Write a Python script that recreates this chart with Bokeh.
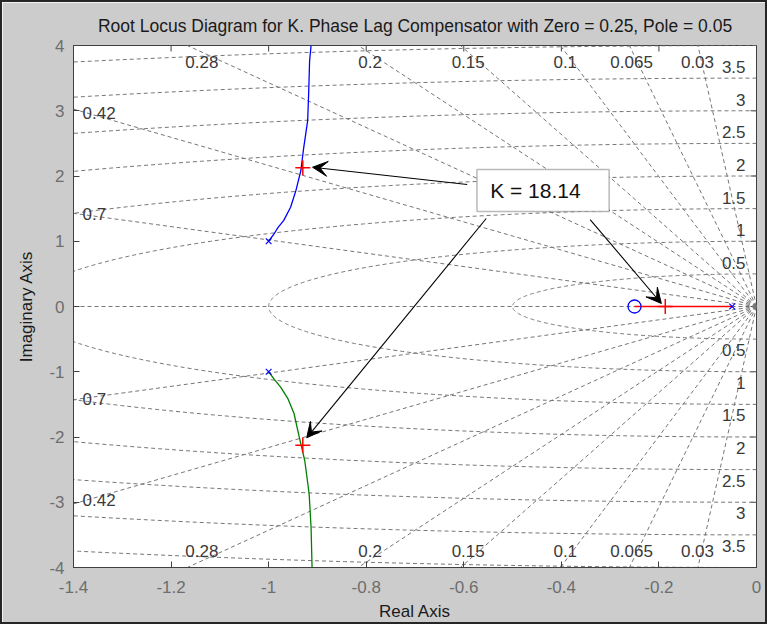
import numpy as np
from bokeh.plotting import figure
from bokeh.models import (Range1d, FixedTicker, Arrow, VeeHead,
                          BoxAnnotation, Label)
from bokeh.core.properties import value
from bokeh.embed import file_html
from bokeh.resources import INLINE

# ---------------- data ----------------
TITLE = "Root Locus Diagram for K. Phase Lag Compensator with Zero = 0.25, Pole = 0.05"
X_LABEL = "Real Axis"
Y_LABEL = "Imaginary Axis"

x_ticks = [-1.4, -1.2, -1.0, -0.8, -0.6, -0.4, -0.2, 0.0]
x_tick_labels = ["-1.4", "-1.2", "-1", "-0.8", "-0.6", "-0.4", "-0.2", "0"]
y_ticks = [-4, -3, -2, -1, 0, 1, 2, 3, 4]
y_tick_labels = ["-4", "-3", "-2", "-1", "0", "1", "2", "3", "4"]

# s-plane grid (damping ratios and natural frequencies)
zeta_values = [0.03, 0.065, 0.1, 0.15, 0.2, 0.28, 0.42, 0.7]
zeta_labels = ["0.03", "0.065", "0.1", "0.15", "0.2", "0.28", "0.42", "0.7"]
wn_values = [0.5, 1.0, 1.5, 2.0, 2.5, 3.0, 3.5, 4.0]
wn_labels = ["0.5", "1", "1.5", "2", "2.5", "3", "3.5"]

# root-locus branches
upper_re = [-1.000, -0.990, -0.981, -0.969, -0.955, -0.944, -0.934, -0.928, -0.920, -0.918, -0.916, -0.913]
upper_im = [1.00, 1.10, 1.21, 1.32, 1.52, 1.78, 2.08, 2.44, 2.85, 3.26, 3.77, 4.00]
lower_re = [-1.000, -0.988, -0.975, -0.960, -0.948, -0.937, -0.926, -0.917, -0.913, -0.911]
lower_im = [-1.00, -1.12, -1.24, -1.42, -1.64, -2.01, -2.36, -2.87, -3.39, -4.00]
real_re = [-0.05, -0.25]
real_im = [0.0, 0.0]

pole_re = [-1.0, -1.0, -0.05]
pole_im = [1.0, -1.0, 0.0]
zero_re = [-0.25]
zero_im = [0.0]

k_value = 18.14
k_re = [-0.93, -0.93, -0.187]
k_im = [2.125, -2.125, 0.0]

# ---------------- layout constants ----------------
XMIN, XMAX = -1.4, 0.0
YMIN, YMAX = -4.0, 4.0
FONT = "Liberation Sans"
GRID_COLOR = "#767676"
LABEL_COLOR = "#3a3a3a"
AXIS_COLOR = "#404040"

zeta_top_x = [-0.121, -0.256, -0.392, -0.591, -0.792, -1.137]   # 0.03 .. 0.28
zeta_top_y = 3.74
zeta_left_x = -1.3815
zeta_left_y = [2.97, 1.42]                                     # 0.42, 0.7
wn_label_x = -0.0225
wn_label_dy = 0.17

p = figure(width=767, height=624,
           x_range=Range1d(XMIN, XMAX), y_range=Range1d(YMIN, YMAX),
           output_backend="svg", toolbar_location=None,
           min_border_left=71, min_border_right=13,
           min_border_top=43, min_border_bottom=59,
           background_fill_color="white", border_fill_color="#cccccc",
           title=TITLE)
p.styles = {"border": "2px solid #262626"}
p.outline_line_color = AXIS_COLOR
p.grid.visible = False

p.title.align = "center"
p.title.text_font = FONT
p.title.text_font_size = "17.5px"
p.title.text_font_style = "normal"
p.title.text_color = "#1a1a1a"
p.title.standoff = 19

def style_axis(ax):
    ax.major_tick_in = 6
    ax.major_tick_out = 0
    ax.minor_tick_in = 0
    ax.minor_tick_out = 0
    ax.axis_line_color = AXIS_COLOR
    ax.major_tick_line_color = AXIS_COLOR
    ax.major_label_text_font = FONT
    ax.major_label_text_font_size = "17px"
    ax.major_label_text_color = "#6e6e6e"
    ax.axis_label_text_font = FONT
    ax.axis_label_text_font_size = "17px"
    ax.axis_label_text_font_style = "normal"
    ax.axis_label_text_color = "#1a1a1a"

xax = p.xaxis[0]
yax = p.yaxis[0]
xax.ticker = FixedTicker(ticks=x_ticks)
yax.ticker = FixedTicker(ticks=y_ticks)
xax.major_label_overrides = dict(zip(x_ticks, x_tick_labels))
yax.major_label_overrides = dict(zip(y_ticks, y_tick_labels))
xax.axis_label = X_LABEL
yax.axis_label = Y_LABEL
style_axis(xax)
style_axis(yax)
xax.major_label_standoff = 13
xax.axis_label_standoff = 6
yax.major_label_standoff = 9
yax.axis_label_standoff = 10

# mirrored inward ticks on the top and right edges of the box
p.scatter(x_ticks, [YMAX] * len(x_ticks), marker="dash", angle=np.pi / 2, size=12,
          line_color=AXIS_COLOR, line_width=1)
p.scatter([XMAX] * len(y_ticks), y_ticks, marker="dash", size=12,
          line_color=AXIS_COLOR, line_width=1)

# ---------------- s-plane grid ----------------
R = 20.0
gx, gy = [], []
for z in zeta_values:
    s = np.sqrt(1 - z * z)
    gx.append([0.0, -R * z]); gy.append([0.0, R * s])
    gx.append([0.0, -R * z]); gy.append([0.0, -R * s])
gx.append([0.0, -R]); gy.append([0.0, 0.0])          # zeta = 1 (real axis)
t = np.linspace(np.pi / 2, 3 * np.pi / 2, 400)
for w in wn_values:
    gx.append(list(w * np.cos(t))); gy.append(list(w * np.sin(t)))
p.multi_line(gx, gy, line_color=GRID_COLOR, line_dash="4 3", line_width=1)

# grid labels
top_names = zeta_labels[:6]
p.text(zeta_top_x + zeta_top_x, [zeta_top_y] * 6 + [-zeta_top_y] * 6, text=top_names + top_names,
       text_align="center", text_baseline="middle",
       text_font=value(FONT), text_font_size="17px", text_color=LABEL_COLOR)
left_names = zeta_labels[6:]
p.text([zeta_left_x] * 4, zeta_left_y + [-v for v in zeta_left_y], text=left_names + left_names,
       text_align="left", text_baseline="middle",
       text_font=value(FONT), text_font_size="17px", text_color=LABEL_COLOR)
wn_y = [w + wn_label_dy for w in wn_values[:len(wn_labels)]]
p.text([wn_label_x] * (2 * len(wn_labels)), wn_y + [-v for v in wn_y], text=wn_labels + wn_labels,
       text_align="right", text_baseline="middle",
       text_font=value(FONT), text_font_size="17px", text_color=LABEL_COLOR)

# ---------------- root locus ----------------
p.line(upper_re, upper_im, line_color="#0000ff", line_width=1.3)
p.line(lower_re, lower_im, line_color="#008000", line_width=1.3)
p.line(real_re, real_im, line_color="#ff0000", line_width=1.3)
p.scatter(pole_re, pole_im, marker="x", size=8, line_color="#0000ff", line_width=1.2)
p.scatter(zero_re, zero_im, marker="circle", size=13, fill_color=None,
          line_color="#0000ff", line_width=1.3)
p.scatter(k_re, k_im, marker="cross", size=15, line_color="#ff0000", line_width=1.5)

# ---------------- annotation ----------------
box = BoxAnnotation(left=-0.573, right=-0.302, bottom=1.456, top=2.100,
                    fill_color="white", fill_alpha=1.0,
                    line_color="#1a1a1a", line_width=1.5)
p.add_layout(box)
p.add_layout(Label(x=-0.546, y=1.78, text="K = %.2f" % k_value, text_baseline="middle",
                   text_align="left", text_font=FONT, text_font_size="21px",
                   text_color="#111111"))
arrows = [((-0.593, 1.870), (-0.910, 2.135)),
          ((-0.554, 1.349), (-0.922, -2.012)),
          ((-0.341, 1.333), (-0.195, 0.046))]
for (xs, ys), (xe, ye) in arrows:
    p.add_layout(Arrow(x_start=xs, y_start=ys, x_end=xe, y_end=ye,
                       line_color="black", line_width=1.1,
                       end=VeeHead(size=15, fill_color="black", line_color="black")))

open("out.html", "w").write(file_html(p, INLINE))
